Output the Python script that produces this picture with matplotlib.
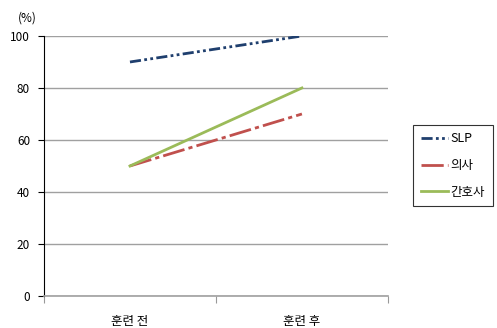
import matplotlib
matplotlib.use("Agg")
import matplotlib.pyplot as plt

plt.rcParams['font.family'] = ['Noto Sans CJK KR', 'DejaVu Sans']

# data
categories = ['훈련 전', '훈련 후']
slp = [90, 100]
doctor = [50, 70]
nurse = [50, 80]
series_names = ['SLP', '의사', '간호사']
yticks = [0, 20, 40, 60, 80, 100]

fig = plt.figure(figsize=(4.97, 3.28), dpi=100)
ax = fig.add_axes([0.0885, 0.0976, 0.692, 0.7927])

x = list(range(len(categories)))
ax.plot(x, slp, color='#1F3F6E', lw=2.0, dashes=[4, 1.2, 1, 1.2, 1, 1.2], label=series_names[0])
ax.plot(x, doctor, color='#C0504D', lw=2.0, dashes=[8, 1.5, 1.5, 1.5], label=series_names[1])
ax.plot(x, nurse, color='#9BBB59', lw=2.0, label=series_names[2])

ax.set_xlim(-0.5, 1.5)
ax.set_ylim(0, 100)
ax.set_yticks(yticks)
ax.set_xticks([-0.5, 0.5, 1.5], minor=False)
ax.set_xticklabels([])
ax.set_xticks(x, minor=True)
ax.set_xticklabels(categories, minor=True, fontsize=9)
ax.tick_params(axis='x', which='minor', length=0, pad=14)
ax.tick_params(axis='x', which='major', length=5, color='#999999', direction='out')
ax.tick_params(axis='y', length=4, direction='out', labelsize=8.5, pad=6)

ax.grid(axis='y', color='#A0A0A0', lw=1)
ax.set_axisbelow(True)
for s in ['top', 'right']:
    ax.spines[s].set_visible(False)
ax.spines['left'].set_color('black')
ax.spines['bottom'].set_color('#A0A0A0')
ax.spines['bottom'].set_linewidth(1.2)

fig.text(0.036, 0.935, '(%)', fontsize=8.5)

leg = fig.legend(loc='upper left', bbox_to_anchor=(0.831, 0.62), fontsize=9,
                 frameon=True, fancybox=False, edgecolor='black', handlelength=2.2,
                 labelspacing=1.1, borderpad=0.6, handletextpad=0.2, borderaxespad=0)
leg.get_frame().set_linewidth(0.8)

fig.savefig('out.png', dpi=100)
